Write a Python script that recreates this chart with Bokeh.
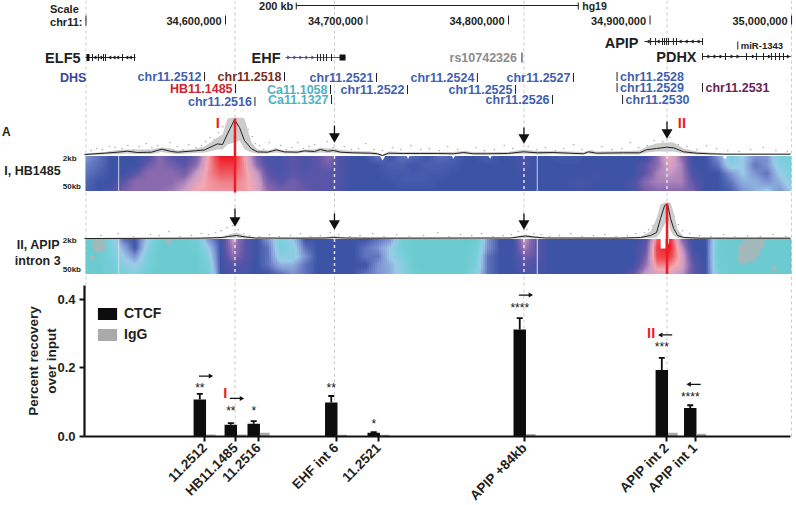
from math import pi
from bokeh.plotting import figure
from bokeh.models import Range1d, LinearColorMapper, FixedTicker, Whisker, TeeHead, ColumnDataSource, Legend, LegendItem, NumeralTickFormatter
from bokeh.core.properties import value
from bokeh.embed import file_html
from bokeh.resources import INLINE
import numpy as np

FONT = "Liberation Sans"
INK = "#231F20"
RED = "#ED1C24"
BLUE = "#3F5FAF"

# ---------- genome positions: kb from chr11:34,500,000 ----------
coord_kb = [100, 200, 300, 400, 500]
coord_labels = ["34,600,000", "34,700,000", "34,800,000", "34,900,000", "35,000,000"]
guide_kb = [1.4, 106.7, 177.0, 310.9, 412.0, 500.0]

dhs_left = ["chr11.2512", "chr11.2518", "HB11.1485", "chr11.2516", "Ca11.1058", "Ca11.1327", "chr11.2521",
            "chr11.2522", "chr11.2524", "chr11.2525", "chr11.2526", "chr11.2527"]
dhs_left_kb = [85.2, 141.7, 107.1, 120.8, 174.2, 174.9, 206.7, 228.6, 278.0, 304.9, 331.1, 345.9]
dhs_left_row = [76, 76, 88, 101, 89, 99, 77, 89, 77, 89, 99, 77]
dhs_left_col = [BLUE, "#7A2E1E", "#D2232A", BLUE, "#4FB0BE", "#4FB0BE", BLUE, BLUE, BLUE, BLUE, BLUE, BLUE]
dhs_right = ["chr11.2528", "chr11.2529", "chr11.2530", "chr11.2531"]
dhs_right_kb = [376.7, 376.7, 380.6, 437.1]
dhs_right_row = [76, 87, 99, 87]
dhs_right_col = [BLUE, BLUE, BLUE, "#6B1F57"]

elf5_kb = (1.1, 36.4); elf5_ticks = [6, 10.2, 13.8, 15.2, 27.2, 35.7]; elf5_dir = [8, 12, 18.5, 21.5, 24, 30.5, 33]
ehf_kb = (142.4, 184.8); ehf_ticks = [165, 167.1, 169.3, 171.4, 174.9]; ehf_dir = [144.5, 148.8, 153, 157.2, 161.5]
apip_kb = (396.1, 437.1); apip_ticks = [400.4, 403.9, 408.8, 410.2, 411.6, 413, 416.5, 418.7, 437.1]; apip_dir = [398.9, 406, 421.5, 425.8, 430, 434.2]
pdhx_kb = (437.1, 499.3); pdhx_ticks = [437.1, 453.3, 468.2, 475.2, 480.2, 485.8, 488.7, 491.5, 494.3]; pdhx_dir = [441.4, 445.7, 449.9, 457.7, 461.9, 472.8, 484.1, 497.5]

# ---------- 4C signal tracks (height units above baseline) ----------
sig1_kb = [.4,14.5,23.7,30.7,37.8,47.7,54.8,61.8,66.1,78.1,85.2,94.3,97.9,101.4,106.4,109.9,113.4,118.4,122.6,129.7,136,141.7,150.9,155.8,162.9,167.1,172,176.3,181.3,190.5,202.5,207.4,211,215.2,225.8,237.8,249.8,261.1,268.2,275.3,285.2,299.3,310.6,320.5,331.8,343.1,353,356.5,362.2,381.2,392.6,397.5,404.6,411.7,416.7,423.7,432.9,442,451.9,499.3]
sig1_mean = [0,1.3,2.3,3.3,2,2.3,5.3,3,2.3,3.6,4.6,10.6,10,20.6,35,27,14,5.6,2.6,2.3,4.6,2.6,2.3,3.6,3,5,3.3,4,2.3,1.7,1.3,.7,-1,1.3,1,1,1,.7,2,.7,.7,1,2.7,1.7,2,1.3,.7,2.7,1.3,1.7,1.7,4.7,6,7.3,6.7,2.7,1.3,.7,.3,.3]
sig1_hi = [1,2.5,4.5,5,5,5,7,6,4,5.5,8,17,20,36,37,37,36,12,5,4,6,4,4,5,5,7,6,6,4.5,3.5,3,2,0,3,2.5,2.5,2.5,2.5,3.5,2.5,2.5,2.5,5,3.5,3.5,3,2.5,4,3,3.5,4,8,11,12,12,6,3,2,1,1]
sig1_lo = [-1,0,.5,1,.5,.5,2.5,1,.5,1.5,2,5,5,10,12,14,5,2,1,1,2,1,1,2,1,2,1.5,2,1,.5,0,-.5,-2,0,0,0,0,0,.5,0,0,0,1,0,.5,0,0,1,0,0,0,2,3,3,3,1,0,0,0,0]
dots1_kb = [5,9,13,18,22,27,31,35,39,44,48,52,57,61,66,70,74,79,83,86,89,92,95,98,101,103,112,116,119,121,124,127,131,135,139,143,147,151,155,159,163,168,172,176,180,184,189,194,199,205,211,218,224,231,238,244,251,257,264,270,277,283,290,297,303,309,314,320,326,333,339,346,352,359,366,373,380,386,392,398,403,409,414,420,426,433,440,447,455,463,471,480,489,497]
dots1_h = [4,6,5,8,7,6,9,5,8,11,7,9,6,12,8,5,10,7,9,13,17,15,22,28,12,30,31,25,18,11,9,5,12,6,9,5,7,12,6,8,10,5,13,7,4,8,5,6,11,5,4,7,5,9,5,6,4,8,5,3,7,4,5,9,6,4,8,5,7,4,6,10,5,4,8,5,6,12,7,9,14,13,17,10,8,5,9,6,4,3,5,7,4,3]

sig2_kb = [.4,82.3,97.9,102.1,107.8,114.1,121.2,149.5,170.7,176.3,184.8,202.5,301.4,306.4,312,317.7,326.2,379.2,393.3,400.4,404.6,407.4,410.3,412.4,414.5,416.7,419.5,423.7,435.7,499.3]
sig2_mean = [0,.3,1,2,3,1.5,.5,.3,.5,1,.5,.3,.5,1.5,2.5,1.5,.5,.4,1,3,6,20,33,34.5,20,10,3,1,.3,.3]
sig2_hi = [.5,1,2,4,6,3,1,1,1.5,2.5,1,1,1,2.5,4,2.5,1,1,2,7,20,34,36,36,36,26,9,2,1,1]
sig2_lo = [-.5,-.5,0,.5,1,0,0,-.5,0,0,0,-.5,0,0,.5,0,0,-.5,0,.5,1,6,14,20,8,3,.5,0,-.5,-.5]
dots2_kb = [12,24,35,47,53,60,68,76,83,88,93,97,101,105,109,113,117,124,131,138,146,153,160,167,174,180,188,195,204,212,221,230,240,250,258,266,274,281,289,296,302,307,313,318,323,329,336,344,352,360,368,376,384,390,396,399,402,405,417,420,423,428,435,443,452,460,469,478,487,496]
dots2_h = [3,5,2,4,3,7,2,3,5,4,6,8,11,13,9,5,3,2,4,2,3,5,2,3,6,4,2,3,5,2,4,2,3,6,2,4,3,5,2,3,4,7,9,5,4,2,3,5,2,3,4,2,3,5,6,9,13,18,22,14,8,5,3,2,4,2,3,2,4,2]

# ---------- domainogram cells, 5 rows (2kb to 50kb) of 59 columns, 0 = teal ... 10 = red ----------
heat_I = [
 [3,3.5,4,4,4,4.5,6,5,4.5,5.5, 8,10,10,8,5.5,4.5,4.5,5,4.5,5, 6,4.5,4,4,3.5,4,3.5,3.7,4,3.6, 3.7,4,4,3.8,4,4,4.5,4,4,3.9, 3.9,4,4,4,4,4,4,6,8,6, 4,4,3,1,2,3,3,1,1],
 [3.3,3.6,4,4,4,5.3,6,5.5,5,6, 8.2,9.5,9.5,8.2,6,4.5,4.5,5,4.5,5, 5.5,4.5,4,4,4,3.8,3.8,4,3.8,3.8, 3.9,4,4,4,4,4,4.5,4,4,4, 4,4,4,4,4,4,5,6,7.5,6.5, 4,4,3.5,1.5,2,3.5,3,1.5,1],
 [3.5,3.8,4,4,5,6,6,6,5.5,7, 8.3,9,9,8.3,7,5,4.5,5,4.8,5, 5,4.5,4,4,4,3.9,3.9,3.9,3.9,3.9, 4,4,4,4,4,4,4.2,4,4,4, 4,4,4.3,4,4,4,5,6.5,7,6.5, 4.5,4,4,3,2,3,3.5,2,1],
 [3.7,4,4,5,6,6,6,6,6.5,7.5, 8.2,8.5,8.5,8.2,7.5,5.5,5,5.5,5,5, 5,4.5,4,4,4,4,3.9,3.9,3.9,4, 4,4,4,4,4,4,4,4,4,4, 4.3,4.3,4,4,4,4.5,6,6.5,6.5,6.5, 5,4,4,3.5,2.5,2.5,3,2.5,1.5],
 [3.8,4,4.5,5.5,6,6,6,6.3,7,8, 8.2,8.3,8.3,8.2,7.5,6,5.5,5.5,5.2,5, 4.8,4.5,4,4,4,4,4,4,4,4, 4,4,4,4,4,4,4,4,4,4, 4.2,4.2,4,4,4,4.5,5.5,6,6,6, 5.5,4,4,3.8,3,2.5,2,3,2],
]
heat_II = [
 [0,0,1,3.5,4,2,0,0,0,.5, 3,4,7,5,4,3,1,2,4,4, 4,4,4,4,3.5,3,.5,0,0,0, 0,0,0,3,4,4,7,5,4,4, 4,4,4,4,4,4,4.5,9,10,6, 4,4,.5,0,0,0,0,0,0],
 [0,0,1,2.5,4,1.5,0,0,0,.2, 2,4,6.5,5,4,3.5,1,1.5,3.5,4, 4,4,4,3.5,3,2,.5,0,0,0, 0,0,.5,3,4,4,6.5,5,4,4, 4,4,4,4,4,4,5,9.5,10,7, 4,4,.3,0,0,0,0,0,0],
 [0,0,1,2,3,1,0,0,0,0, 1.5,4,6,5,4,3.5,1.5,1.5,3,4, 4,4,4,3.5,3.5,2,1,0,0,0, 0,0,.8,3.5,4,4,5.5,5,4,4, 4,4,4,4,4,4,5.5,9.3,9.5,7.5, 4.5,4,.3,0,0,0,0,0,0],
 [0,0,.5,1.5,2,1,0,0,0,0, 1,4,5,4.5,4,3.5,2.5,2.5,3.5,4, 4,4,4,4,3,2.5,1.5,0,0,0, 0,0,1,3.5,4,4,5,4.5,4,4, 4,4,4,4,4,4,6,8.5,8.5,7.5, 5,4,.5,0,0,0,0,0,0],
 [0,0,.5,1,1.5,.5,0,0,0,0, .5,4,4.5,4.5,4,4,3.5,3,3.5,4, 4,4,4,3.5,3,2.5,1.5,.3,0,0, 0,0,1.5,3.5,4,4,4.5,4.5,4,4, 4,4,4,4,4,5,7,7.5,7.5,7, 5,4,.8,0,0,0,0,0,0],
]
heat_anchors = ["#6CCBD0", "#78D0DC", "#9CCBE8", "#7E93D2", "#3D53A6", "#5A55A8", "#8A6AAE", "#C79AC6", "#F2A9B4", "#EF5A62", "#ED1C24"]

# ---------- ChIP-qPCR ----------
sites = ["11.2512", "HB11.1485", "11.2516", "EHF int 6", "11.2521", "APIP +84kb", "APIP int 2", "APIP int 1"]
site_kb = [85.2, 107.1, 123.3, 178.1, 208.1, 311.3, 411.7, 431.8]
ctcf = [.108, .034, .037, .099, .011, .312, .194, .083]
ctcf_err = [.016, .005, .008, .019, .002, .033, .035, .008]
igg = [.006, .006, .011, .005, .005, .007, .011, .008]
stars = ["**", "**", "*", "**", "*", "****", "***", "****"]
star_y = [.148, .081, .081, .148, .042, .380, .266, .122]
primer_y = [.176, .111, .412, .296, .152]
primer_kb = [85.2, 107.1, 311.3, 411.7, 431.8]
primer_dir = [1, 1, 1, -1, -1]


def label(fig, xs, ys, texts, size, color=INK, align="left", xoff=0, style="bold", yoff=0):
    fig.text(x=xs, y=ys, text=texts, text_font=value(FONT), text_font_size=value(size), text_font_style=style,
             text_color=color, text_align=align, text_baseline="middle", x_offset=xoff, y_offset=yoff)


def smooth(cells, nx=6, ny=7):
    """Soften the coarse cells for display, the way the original's fine grid looks."""
    a = np.array(cells, float)
    xi = np.arange(a.shape[1])
    xn = np.linspace(0, a.shape[1] - 1, a.shape[1] * nx)
    a = np.array([np.interp(xn, xi, r) for r in a])
    yi = np.arange(a.shape[0])
    yn = np.linspace(0, a.shape[0] - 1, a.shape[0] * ny)
    return np.array([np.interp(yn, yi, c) for c in a.T]).T


# ================= tracks =================
p = figure(width=796, height=285, x_range=Range1d(-59, 503.5), y_range=Range1d(285, 0),
           x_axis_type=None, y_axis_type=None, toolbar_location=None, output_backend="svg",
           min_border=0, outline_line_color=None, background_fill_color="white", border_fill_color="white",
           styles={"position": "absolute", "left": "0px", "top": "0px"})
p.extra_y_ranges = {"sig1": Range1d(-131, 154), "sig2": Range1d(-47, 238)}

p.segment(x0=guide_kb, x1=guide_kb, y0=0, y1=285, line_color="#c9c9c9", line_width=1, line_dash="3 3")

# header
label(p, [-24], [8], ["Scale"], "11px")
label(p, [-24], [21], ["chr11:"], "11px")
p.segment(x0=[1.4], x1=[1.4], y0=15, y1=25, line_color=INK, line_width=1)
p.segment(x0=coord_kb, x1=coord_kb, y0=15, y1=24, line_color=INK, line_width=1)
label(p, coord_kb, [20] * 5, coord_labels, "11px", align="right", xoff=-4)
label(p, [150], [5], ["200 kb"], "11px", align="right", xoff=-3)
p.segment(x0=[150], x1=[349.3], y0=5, y1=5, line_color=INK, line_width=1)
p.segment(x0=[150, 349.3], x1=[150, 349.3], y0=2, y1=9, line_color=INK, line_width=1)
label(p, [349.3], [5], ["hg19"], "10.5px", xoff=4)

# genes
for span, ticks, dirs, y, ang, col in [(elf5_kb, elf5_ticks, elf5_dir, 57, pi / 2, INK),
                                       (ehf_kb, ehf_ticks, ehf_dir, 57, -pi / 2, "#54508F"),
                                       (apip_kb, apip_ticks, apip_dir, 41, pi / 2, INK),
                                       (pdhx_kb, pdhx_ticks, pdhx_dir, 56, -pi / 2, INK)]:
    p.segment(x0=[span[0]], x1=[span[1]], y0=y, y1=y, line_color=col, line_width=1)
    p.segment(x0=ticks, x1=ticks, y0=y - 3.5, y1=y + 3.5, line_color=INK, line_width=1)
    p.scatter(x=dirs, y=[y] * len(dirs), marker="triangle", size=4, angle=ang, fill_color=col, line_color=None)
p.quad(left=[1.8, 180.6], right=[3.9, 184.8], bottom=[60.5, 60], top=[53.5, 54], fill_color="#111111", line_color=None)
label(p, [1.1, 142.4], [57, 57], ["ELF5", "EHF"], "14.5px", align="right", xoff=-5)
label(p, [396.1, 437.1], [42, 56], ["APIP", "PDHX"], "14.5px", align="right", xoff=-6)
p.segment(x0=[462], x1=[462], y0=41, y1=49, line_color=INK, line_width=1)
label(p, [462], [45], ["miR-1343"], "9.5px", xoff=3)
label(p, [309.5], [57], ["rs10742326"], "12.5px", color="#8C8C8C", align="right", xoff=-5)
p.segment(x0=[309.5], x1=[309.5], y0=52, y1=62, line_color=INK, line_width=1)

# DHS
label(p, [-17], [77], ["DHS"], "12.5px", color="#3545A4")
label(p, dhs_left_kb, dhs_left_row, dhs_left, "12.5px", color=dhs_left_col, align="right", xoff=-3)
label(p, dhs_right_kb, dhs_right_row, dhs_right, "12.5px", color=dhs_right_col, xoff=3)
ticks_x = dhs_left_kb + dhs_right_kb
ticks_y = dhs_left_row + dhs_right_row
p.segment(x0=ticks_x, x1=ticks_x, y0=[v - 4.5 for v in ticks_y], y1=[v + 4.5 for v in ticks_y], line_color=INK, line_width=1)

# domainograms
ramp = []
for a, b in zip(heat_anchors[:-1], heat_anchors[1:]):
    ca = np.array([int(a[i:i + 2], 16) for i in (1, 3, 5)], float)
    cb = np.array([int(b[i:i + 2], 16) for i in (1, 3, 5)], float)
    for t in np.linspace(0, 1, 25, endpoint=False):
        c = ca + (cb - ca) * t
        ramp.append("#%02X%02X%02X" % tuple(int(round(v)) for v in c))
ramp.append(heat_anchors[-1])
mapper = LinearColorMapper(palette=ramp, low=0, high=10)
p.image(image=[smooth(heat_I)], x=1.06, y=155.5, dw=498.9, dh=35, color_mapper=mapper)
p.image(image=[smooth(heat_II)], x=1.06, y=238.5, dw=498.9, dh=35, color_mapper=mapper)

# grey patches, gaps and guides over the domainograms
p.scatter(x=[10.5, 6, 60, 470, 466, 477, 488], y=[245, 257, 241, 250, 258, 243, 268], size=[14, 5, 6, 22, 12, 12, 5],
          marker="circle", fill_color="#A2B9BB", line_color=None)
p.segment(x0=[24.5, 320.3], x1=[24.5, 320.3], y0=155.5, y1=190.5, line_color="#C8CFE6", line_width=1)
p.segment(x0=[24.5, 320.3], x1=[24.5, 320.3], y0=238.5, y1=273.5, line_color="#C8E6E6", line_width=1)
p.segment(x0=[177, 310.9, 412], x1=[177, 310.9, 412], y0=155.5, y1=191, line_color="#DDE0EE", line_width=1.5, line_dash="3 3")
p.segment(x0=[106.7, 177, 310.9], x1=[106.7, 177, 310.9], y0=238.5, y1=274, line_color="#DDE0EE", line_width=1.5, line_dash="3 3")
p.scatter(x=[211, 211, 229, 261, 287, 453], y=[156] * 6, size=[7, 5, 4, 4, 4, 5], marker="inverted_triangle", fill_color="white", line_color=None)
p.quad(left=[407.5, 411.5], right=[411, 413.5], top=[248, 243], bottom=[238, 238], fill_color="white", line_color=None)

# signals
p.scatter(x=dots1_kb, y=dots1_h, y_range_name="sig1", size=1.7, marker="circle", fill_color="#B4B4B4", line_color=None)
p.scatter(x=dots2_kb, y=dots2_h, y_range_name="sig2", size=1.7, marker="circle", fill_color="#B4B4B4", line_color=None)
p.varea(x=sig1_kb, y1=sig1_lo, y2=sig1_hi, y_range_name="sig1", fill_color="#CCCCCC")
p.varea(x=sig2_kb, y1=sig2_lo, y2=sig2_hi, y_range_name="sig2", fill_color="#CCCCCC")
p.line(x=sig1_kb, y=sig1_mean, y_range_name="sig1", line_color="#222222", line_width=1)
p.line(x=sig2_kb, y=sig2_mean, y_range_name="sig2", line_color="#222222", line_width=1)
p.segment(x0=[106.7], x1=[106.7], y0=118, y1=192, line_color=RED, line_width=2.5)
p.segment(x0=[412], x1=[412], y0=203, y1=273.5, line_color=RED, line_width=2.5)

# arrows
arrow_x = [177, 310.9, 412, 106.7, 177, 310.9]
arrow_top = [125, 127, 121, 208, 213, 213]
arrow_tip = [135, 136, 131, 219, 222, 222]
p.segment(x0=arrow_x, x1=arrow_x, y0=arrow_top, y1=arrow_tip, line_color="#111111", line_width=1.3)
p.scatter(x=arrow_x, y=[v + 1 for v in arrow_tip], marker="inverted_triangle", size=11, fill_color="#111111", line_color=None)

# panel text
label(p, [-58], [131], ["A"], "12px")
label(p, [94.5], [122], ["I"], "14.5px", color=RED, align="center")
label(p, [422.5], [122], ["II"], "14.5px", color=RED, align="center")
label(p, [-16.5, -17, -16.5], [170, 244, 260], ["I, HB1485", "II, APIP", "intron 3"], "12.5px", align="right")
label(p, [-15, -15, -15, -15], [158, 186, 240, 269], ["2kb", "50kb", "2kb", "50kb"], "8px")

# ================= bars =================
q = figure(frame_width=708, frame_height=151, x_range=Range1d(.35, 500.7), y_range=Range1d(0, .44),
           toolbar_location=None, output_backend="svg", min_border_left=84, min_border_right=4,
           min_border_top=0, min_border_bottom=69, outline_line_color=None,
           background_fill_color="white", border_fill_color="white",
           styles={"position": "absolute", "left": "0px", "top": "285px"})
q.grid.visible = False
q.segment(x0=guide_kb[1:], x1=guide_kb[1:], y0=0, y1=.44, line_color="#c9c9c9", line_width=1, line_dash="3 3")

ctcf_x = [k - 3.36 for k in site_kb]
igg_x = [k + 4.4 for k in site_kb]
r1 = q.vbar(x=ctcf_x, top=ctcf, width=8.8, fill_color="#0D0D0D", line_color=None)
r2 = q.vbar(x=igg_x, top=igg, width=6.8, fill_color="#AAAAAA", line_color=None)
err = ColumnDataSource(dict(x=ctcf_x, lo=ctcf, up=[a + b for a, b in zip(ctcf, ctcf_err)]))
q.add_layout(Whisker(source=err, base="x", lower="lo", upper="up", dimension="height", line_color="#0D0D0D", line_width=1.8,
                     upper_head=TeeHead(size=6, line_color="#0D0D0D", line_width=1.8), lower_head=None))
label(q, ctcf_x, star_y, stars, "12px", align="center", style="normal", color="#111111", yoff=2)

# primers
pr_tail = [k - d * 4 for k, d in zip(primer_kb, primer_dir)]
pr_head = [k + d * 4 for k, d in zip(primer_kb, primer_dir)]
q.segment(x0=pr_tail, x1=pr_head, y0=primer_y, y1=primer_y, line_color="#111111", line_width=1.4)
q.scatter(x=pr_head, y=primer_y, marker="triangle", size=5,
          angle=[-pi / 2 if d > 0 else pi / 2 for d in primer_dir], fill_color="#111111", line_color=None)
label(q, [99.8, 400.8], [.126, .301], ["I", "II"], "14.5px", color=RED, align="center")

# axes
ax = q.xaxis[0]
ax.ticker = FixedTicker(ticks=site_kb)
ax.major_label_overrides = dict(zip(site_kb, sites))
ax.major_label_orientation = pi / 4
ax.major_label_text_font = FONT
ax.major_label_text_font_style = "bold"
ax.major_label_text_font_size = "13.5px"
ax.major_label_text_color = INK
ax.major_label_standoff = 4
ax.axis_line_width = 2.2
ax.axis_line_color = "#111111"
ax.major_tick_line_width = 2
ax.major_tick_line_color = "#111111"
ax.major_tick_in = 0
ax.major_tick_out = 5
ax.minor_tick_line_color = None
ax.bounds = (.35, 499.3)

ay = q.yaxis[0]
ay.ticker = FixedTicker(ticks=[0, .2, .4])
ay.formatter = NumeralTickFormatter(format="0.0")
ay.major_label_text_font = FONT
ay.major_label_text_font_style = "bold"
ay.major_label_text_font_size = "13px"
ay.major_label_text_color = INK
ay.major_label_standoff = 4
ay.axis_line_width = 2.2
ay.axis_line_color = "#111111"
ay.major_tick_line_width = 2
ay.major_tick_line_color = "#111111"
ay.major_tick_in = 0
ay.major_tick_out = 5
ay.minor_tick_line_color = None
ay.axis_label = "Percent recovery\nover input"
ay.axis_label_text_font = FONT
ay.axis_label_text_font_style = "bold"
ay.axis_label_text_font_size = "13.5px"
ay.axis_label_text_color = INK
ay.axis_label_standoff = -5

leg = Legend(items=[LegendItem(label="CTCF", renderers=[r1]), LegendItem(label="IgG", renderers=[r2])],
             location=(11, 94), orientation="vertical", border_line_color=None, background_fill_alpha=0,
             glyph_width=24, glyph_height=15, label_text_font=FONT, label_text_font_style="bold",
             label_text_font_size="14px", label_text_color=INK, spacing=5, padding=0, margin=0, label_standoff=5)
q.add_layout(leg)

html = file_html([p, q], INLINE)
html = html.replace("</head>", "<style>html,body{overflow:hidden}</style></head>", 1)
open("out.html", "w").write(html)
